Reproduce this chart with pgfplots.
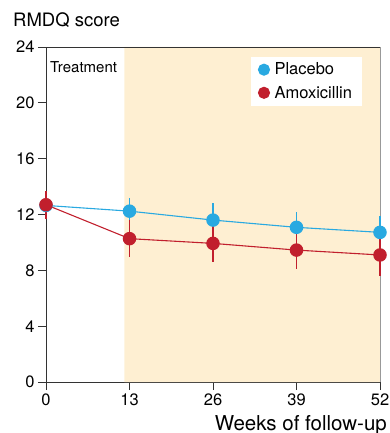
\documentclass[border=0pt]{standalone}
\usepackage{pgfplots}
\pgfplotsset{compat=1.18}
\usepackage{fontspec}
\setmainfont{TeX Gyre Heros}
\definecolor{pblue}{HTML}{29A9E1}
\definecolor{ared}{HTML}{C11F2D}
\definecolor{shade}{HTML}{FEEFD2}
\definecolor{axgray}{HTML}{333333}
\definecolor{rgray}{HTML}{999999}
\begin{document}
\begin{tikzpicture}
\begin{axis}[
  scale only axis, width=334bp, height=335bp,
  xmin=0, xmax=52, ymin=0, ymax=24,
  clip=false,
  axis lines*=left,
  axis line style={axgray, line width=0.9pt, -},
  xtick={0,13,26,39,52}, ytick={0,4,...,24},
  tick align=outside, major tick length=8bp,
  tick style={axgray, line width=0.9pt},
  /pgf/number format/assume math mode=true,
  ticklabel style={font=\fontsize{16.5bp}{18bp}\selectfont, text=black},
  xlabel={Weeks of follow-up},
  xlabel style={at={(rel axis cs:1,0)}, anchor=base east, xshift=7bp, yshift=-48bp, font=\fontsize{20.5bp}{23bp}\selectfont, inner sep=0pt},
  ylabel={RMDQ score},
  ylabel style={rotate=-90, at={(rel axis cs:0,1)}, anchor=base west, xshift=-33bp, yshift=20bp, font=\fontsize{18.5bp}{21bp}\selectfont, inner sep=0pt},
  legend style={at={(rel axis cs:0.613,0.971)}, anchor=north west, draw=none, fill=white,
    font=\fontsize{16.5bp}{18bp}\selectfont, inner xsep=7bp, inner ysep=3bp,
    nodes={inner sep=3bp}, row sep=3.6bp, column sep=1.5bp},
  legend cell align=left,
  legend image code/.code={\fill[#1] (0bp,0bp) circle (5.5bp);},
]
\addplot[fill=shade, draw=none, forget plot] coordinates {(12.2,0) (52,0) (52,24) (12.2,24)} \closedcycle;
\draw[axgray, line width=0.9pt] (axis cs:0,24) -- (axis cs:52,24);
\draw[rgray, line width=0.9pt] (axis cs:52,0) -- (axis cs:52,24);
\coordinate (ll) at (rel axis cs:0,0);
\addplot[color=pblue, line width=1.1pt, mark=*, mark size=6.2bp,
  error bars/.cd, y dir=both, y explicit, error mark=none,
  error bar style={line width=2pt, pblue}]
  coordinates {
  (0,12.65) +- (0,0.85)
  (13,12.24) +- (0,0.95)
  (26,11.6) +- (0,1.2)
  (39,11.08) +- (0,1.12)
  (52,10.72) +- (0,1.2)
  };
\addlegendentry{Placebo}
\addplot[color=ared, line width=1.1pt, mark=*, mark size=6.2bp,
  error bars/.cd, y dir=both, y explicit, error mark=none,
  error bar style={line width=2pt, ared}]
  coordinates {
  (0,12.7) +- (0,1.0)
  (13,10.27) +- (0,1.32)
  (26,9.93) +- (0,1.35)
  (39,9.45) +- (0,1.38)
  (52,9.1) +- (0,1.5)
  };
\addlegendentry{Amoxicillin}
\node[anchor=base west, inner sep=0pt, font=\fontsize{15bp}{17bp}\selectfont] at (axis cs:0.62,22.18) {Treatment};
\end{axis}
\pgfresetboundingbox
\path ([shift={(-46bp,-51bp)}]ll) rectangle ([shift={(344bp,382bp)}]ll);
\end{tikzpicture}
\end{document}
